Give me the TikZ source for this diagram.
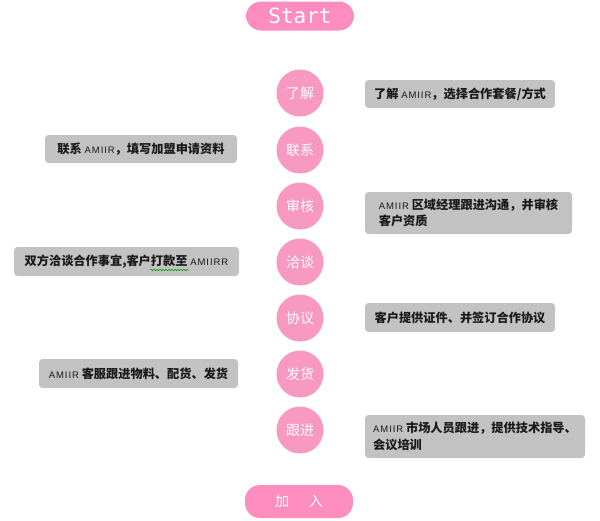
\documentclass[tikz,border=0pt]{standalone}
\usepackage{fontspec}
\setmainfont{Noto Sans CJK SC}
\newfontfamily\latinf[LetterSpace=10]{Liberation Sans}
\newfontfamily\monof{DejaVu Sans Mono}
\usetikzlibrary{decorations.pathmorphing}
\definecolor{pillpink}{HTML}{FC8DBE}
\definecolor{circpink}{HTML}{F899C2}
\definecolor{boxgray}{HTML}{C2C2C2}
\definecolor{txtgray}{HTML}{1A1A1A}
\newcommand{\amiir}{{\latinf\mdseries\fontsize{9.5}{10}\selectfont AMIIR}}
\begin{document}
\begin{tikzpicture}[x=1pt,y=-1pt,
 pill/.style={fill=pillpink, rounded corners=15pt, minimum width=108pt, inner sep=0pt, text=white},
 stepc/.style={circle, fill=circpink, minimum size=47pt, inner sep=0pt, text=white, font=\fontsize{14}{15}\selectfont},
 gbox/.style={fill=boxgray, rounded corners=3.5pt, inner ysep=0pt, inner xsep=3pt, text=txtgray, font=\fontsize{12.2}{16.5}\selectfont\bfseries},
]
\useasboundingbox (0,0) rectangle (600,520);
\node[pill, minimum height=29pt, font=\monof\fontsize{21}{24}\selectfont] (start) at (300,16) {Start};
\node[stepc] (s1) at (300,93) {了解};
\node[stepc] (s2) at (300,150) {联系};
\node[stepc] (s3) at (300,206) {审核};
\node[stepc] (s4) at (300,262) {洽谈};
\node[stepc] (s5) at (300,318) {协议};
\node[stepc] (s6) at (300,374) {发货};
\node[stepc] (s7) at (300,430) {跟进};
\node[pill, minimum height=33pt, font=\fontsize{14}{16}\selectfont] (join) at (299,501.5) {加\hspace{20pt}入};

\node[gbox, minimum width=190pt, minimum height=28pt] (b1) at (460,94) {了解 \amiir，选择合作套餐/方式};
\node[gbox, minimum width=192pt, minimum height=28pt] (b2) at (141,149) {联系 \amiir，填写加盟申请资料};
\node[gbox, align=left, minimum width=207pt, minimum height=42pt] (b3) at (468.5,213) {\amiir\ 区域经理跟进沟通，并审核\hspace{14pt}\\客户资质};
\node[gbox, minimum width=225pt, minimum height=29pt] (b4) at (126.5,261.5) {双方洽谈合作事宜,客户打款至 {\latinf\mdseries\fontsize{9.5}{10}\selectfont AMIIRR}};
\node[gbox, minimum width=190pt, minimum height=29pt] (b5) at (460,317.5) {客户提供证件、并签订合作协议};
\node[gbox, minimum width=199pt, minimum height=29pt] (b6) at (138.5,373.5) {\amiir\ 客服跟进物料、配货、发货};
\node[gbox, align=left, minimum width=220pt, minimum height=43pt] (b7) at (475,436.5) {\amiir\ 市场人员跟进，提供技术指导、\\会议培训};
\coordinate (sq1) at (150,270);
\coordinate (sq2) at (189,270);
\draw[green!60!black, line width=0.5pt, decorate, decoration={snake, amplitude=0.8pt, segment length=3pt}] (sq1) -- (sq2);
\end{tikzpicture}
\end{document}
